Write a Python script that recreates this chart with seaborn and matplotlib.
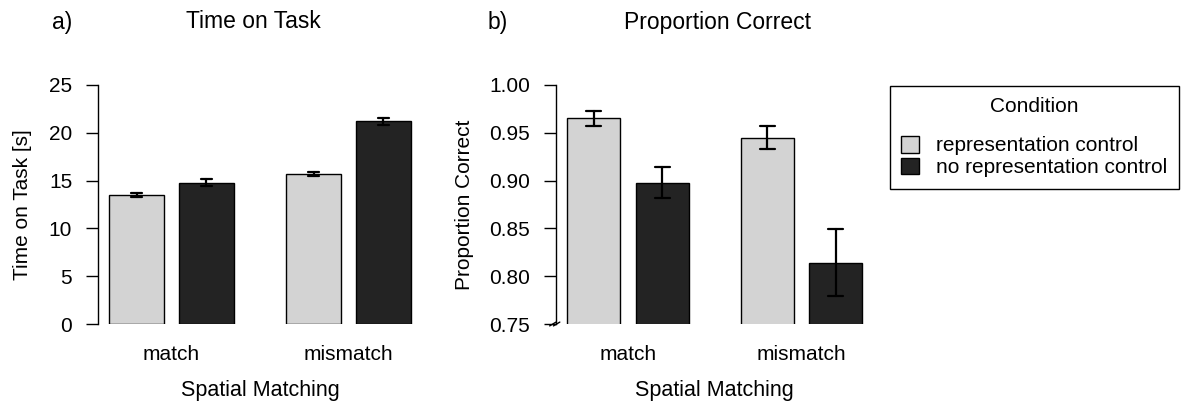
import matplotlib
matplotlib.use("Agg")
import matplotlib.pyplot as plt
import numpy as np
import pandas as pd
import seaborn as sns

# data (order: match/rep, match/no-rep, mismatch/rep, mismatch/no-rep)
matching = ["match", "mismatch"]
conditions = ["representation control", "no representation control"]
time_mean = [13.5, 14.8, 15.7, 21.2]
time_err = [0.2, 0.35, 0.2, 0.4]
prop_mean = [0.965, 0.898, 0.945, 0.814]
prop_err = [0.008, 0.016, 0.012, 0.035]
palette = ["#d3d3d3", "#232323"]


def make_frame(means, errs):
    # two rows per cell (mean - se, mean + se): mean is the bar, min/max the error bar
    rows = []
    k = 0
    for m in matching:
        for c in conditions:
            for sign in (-1, 1):
                rows.append({"Spatial Matching": m, "Condition": c,
                             "value": means[k] + sign * errs[k]})
            k += 1
    return pd.DataFrame(rows)


sns.set_style("white")
plt.rcParams["font.family"] = ["Liberation Sans", "DejaVu Sans"]
plt.rcParams["font.size"] = 15
for key in ["text.color", "axes.labelcolor", "xtick.color", "ytick.color"]:
    plt.rcParams[key] = "black"

fig = plt.figure(figsize=(11.95, 4.05), dpi=100)
ax_a = fig.add_axes([98 / 1195, 0.2, 324 / 1195, 239 / 405])
ax_b = fig.add_axes([556 / 1195, 0.2, 317.5 / 1195, 239 / 405])

panels = [
    (ax_a, make_frame(time_mean, time_err), "Time on Task [s]", (0, 25), 0.12, -0.204),
    (ax_b, make_frame(prop_mean, prop_err), "Proportion Correct", (0.75, 1.0), 0.175, -0.258),
]

for ax, df, ylab, ylim, cap, ylab_x in panels:
    sns.barplot(data=df, x="Spatial Matching", y="value", hue="Condition",
                order=matching, hue_order=conditions, palette=palette,
                estimator="mean", errorbar=lambda v: (v.min(), v.max()),
                width=0.79, gap=0.22, capsize=cap, saturation=1,
                edgecolor="black", linewidth=1.0,
                err_kws={"color": "black", "linewidth": 1.6},
                ax=ax)
    ax.set_xlim(-0.415, 1.415)
    ax.set_ylim(*ylim)
    ax.set_ylabel(ylab, fontsize=15)
    ax.set_xlabel("Spatial Matching", fontsize=15.5)
    ax.yaxis.set_label_coords(ylab_x, 0.5)
    ax.xaxis.set_label_coords(0.5, -0.235)
    for s in ["top", "right", "bottom"]:
        ax.spines[s].set_visible(False)
    ax.spines["left"].set_linewidth(1.0)
    ax.spines["left"].set_color("black")
    ax.tick_params(axis="y", left=True, length=8.6, width=1.0, pad=10, labelsize=15)
    ax.tick_params(axis="x", bottom=False, length=0, pad=15, labelsize=15)
    ax.get_legend().remove()

ax_a.set_yticks([0, 5, 10, 15, 20, 25])
ax_b.set_yticks([0.75, 0.80, 0.85, 0.90, 0.95, 1.00])
ax_b.yaxis.set_major_formatter(matplotlib.ticker.FormatStrFormatter("%.2f"))

# axis break mark on the proportion axis
for dx in (-0.012, 0.0):
    ax_b.plot([dx - 0.008, dx + 0.012], [-0.008, 0.008], color="black",
              linewidth=1.0, transform=ax_b.transAxes, clip_on=False)

title_y = 1 - 22 / 405
fig.text(52 / 1195, title_y, "a)", fontsize=16.5, va="center", ha="left")
fig.text(253 / 1195, title_y, "Time on Task", fontsize=16.5, va="center", ha="center")
fig.text(488 / 1195, title_y, "b)", fontsize=16.5, va="center", ha="left")
fig.text(717 / 1195, title_y, "Proportion Correct", fontsize=16.5, va="center", ha="center")

handles = [plt.Rectangle((0, 0), 1, 1, facecolor=c, edgecolor="black", linewidth=1.0)
           for c in palette]
leg = fig.legend(handles, conditions, title="Condition", loc="upper left",
                 bbox_to_anchor=(890 / 1195, 1 - 86 / 405), fontsize=15,
                 title_fontsize=15, fancybox=False, edgecolor="black",
                 framealpha=1, handlelength=0.86, handleheight=0.86,
                 handletextpad=0.8, labelspacing=0.1, borderpad=0.55,
                 borderaxespad=0)
leg.get_frame().set_linewidth(1.0)
leg._legend_box.sep = 14

fig.savefig("out.png", dpi=100)
